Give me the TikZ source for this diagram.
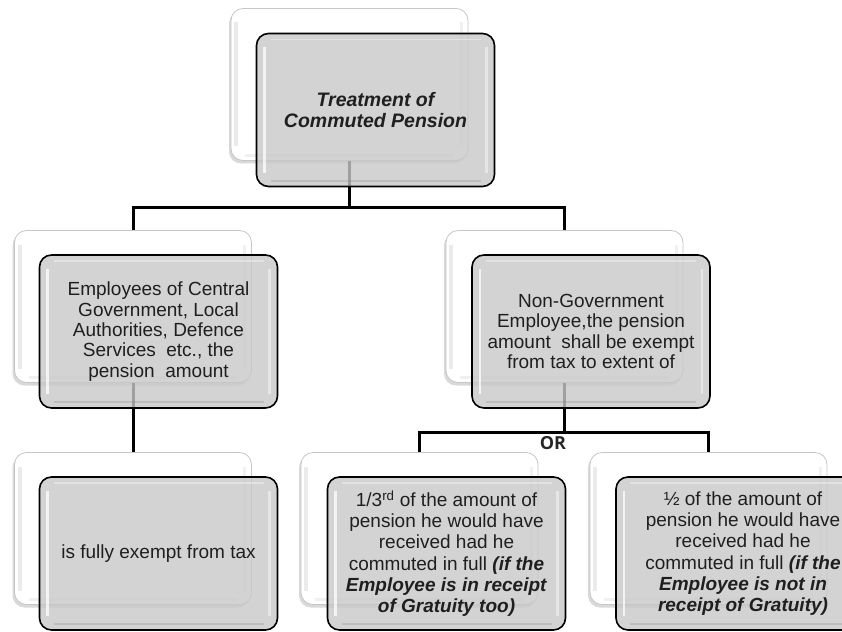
\documentclass[tikz,border=0pt]{standalone}
\usepackage{fontspec}
\setmainfont{Liberation Sans}
\newfontfamily\orfont{Open Sans}
\usetikzlibrary{shadows}
\begin{document}
\begin{tikzpicture}[x=1pt,y=-1pt,
  backbox/.style={draw=gray!45, line width=0.8pt, fill=white, rounded corners=12pt,
    minimum width=237pt, minimum height=152pt, inner sep=0pt,
    drop shadow={shadow xshift=-2pt, shadow yshift=-3pt, opacity=0.3, fill=gray},
    path picture={
      \draw[gray!16, line width=4pt] ([xshift=5pt,yshift=-14pt]path picture bounding box.north west) -- ([xshift=5pt,yshift=14pt]path picture bounding box.south west);
      \draw[gray!12, line width=3pt] ([xshift=-7pt,yshift=-14pt]path picture bounding box.north east) -- ([xshift=-7pt,yshift=14pt]path picture bounding box.south east);
      \draw[gray!12, line width=3pt] ([xshift=14pt,yshift=5pt]path picture bounding box.south west) -- ([xshift=-14pt,yshift=5pt]path picture bounding box.south east);
    }},
  frontbox/.style={draw=black, line width=1.6pt, fill=gray!43, fill opacity=0.8, text opacity=1,
    rounded corners=12pt, minimum width=238pt, minimum height=153pt, inner sep=4pt,
    align=center, text=black!88,
    path picture={
      \draw[white, line width=2.5pt, opacity=0.75] ([xshift=8pt,yshift=-14pt]path picture bounding box.north west) -- ([xshift=8pt,yshift=14pt]path picture bounding box.south west);
      \draw[white, line width=2.5pt, opacity=0.45] ([xshift=-8pt,yshift=-14pt]path picture bounding box.north east) -- ([xshift=-8pt,yshift=14pt]path picture bounding box.south east);
      \draw[white, line width=1.5pt, opacity=0.35] ([xshift=14pt,yshift=-6pt]path picture bounding box.north west) -- ([xshift=-14pt,yshift=-6pt]path picture bounding box.north east);
      \draw[gray, line width=2pt, opacity=0.25] ([xshift=14pt,yshift=6pt]path picture bounding box.south west) -- ([xshift=-14pt,yshift=6pt]path picture bounding box.south east);
    }},
  ftwo/.style={font=\fontsize{19}{20.4}\selectfont},
  fthree/.style={font=\fontsize{19}{21.2}\selectfont},
  conn/.style={line width=3pt, draw=black}]
\useasboundingbox (0,0) rectangle (842,631);
% back boxes
\node[backbox] (tb) at (349.5,84.5) {};
\node[backbox] (lb) at (133,306.5) {};
\node[backbox] (rb) at (564.5,306.5) {};
\node[backbox] (lb3) at (133,528.5) {};
\node[backbox] (mb3) at (419.5,528.5) {};
\node[backbox] (rb3) at (708.5,528.5) {};
% connectors
\path (tb.south) ++(0,47) coordinate (j1);
\draw[conn] (tb.south) -- (j1);
\draw[conn] (lb.north) |- (j1) -| (rb.north);
\draw[conn] (lb.south) -- (lb3.north);
\path (rb.south) ++(0,49.5) coordinate (j2);
\draw[conn] (rb.south) -- (j2);
\draw[conn] (mb3.north) |- (j2) -| (rb3.north);
% front boxes
\node[frontbox, font=\fontsize{19.5}{20.5}\selectfont\bfseries\itshape] (tf) at (375.5,110) {Treatment of\\Commuted Pension};
\node[frontbox, ftwo] (lf) at (158.5,331.5) {Employees of Central\\Government, Local\\Authorities, Defence\\Services~ etc., the\\pension~ amount};
\node[frontbox, ftwo] (rf) at (591,331.5) {Non-Government\\Employee,the pension\\amount~ shall be exempt\\from tax to extent of};
\node[frontbox, ftwo] (lf3) at (158.5,553.5) {is fully exempt from tax};
\node[frontbox, fthree] (mf3) at (446.5,553.5) {1/3\textsuperscript{rd} of the amount of\\pension he would have\\received had he\\commuted in full \textbf{\textit{(if the}}\\\textbf{\textit{Employee is in receipt}}\\\textbf{\textit{of Gratuity too)}}};
\node[frontbox, fthree, minimum width=254pt] (rf3) at (743,553.5) {½ of the amount of\\pension he would have\\received had he\\commuted in full \textbf{\textit{(if the}}\\\textbf{\textit{Employee is not in}}\\\textbf{\textit{receipt of Gratuity)}}};
\node[font=\orfont\fontsize{18}{18}\selectfont\bfseries, text=black!85, inner sep=0pt] (or) at (553,443) {OR};
\end{tikzpicture}
\end{document}
